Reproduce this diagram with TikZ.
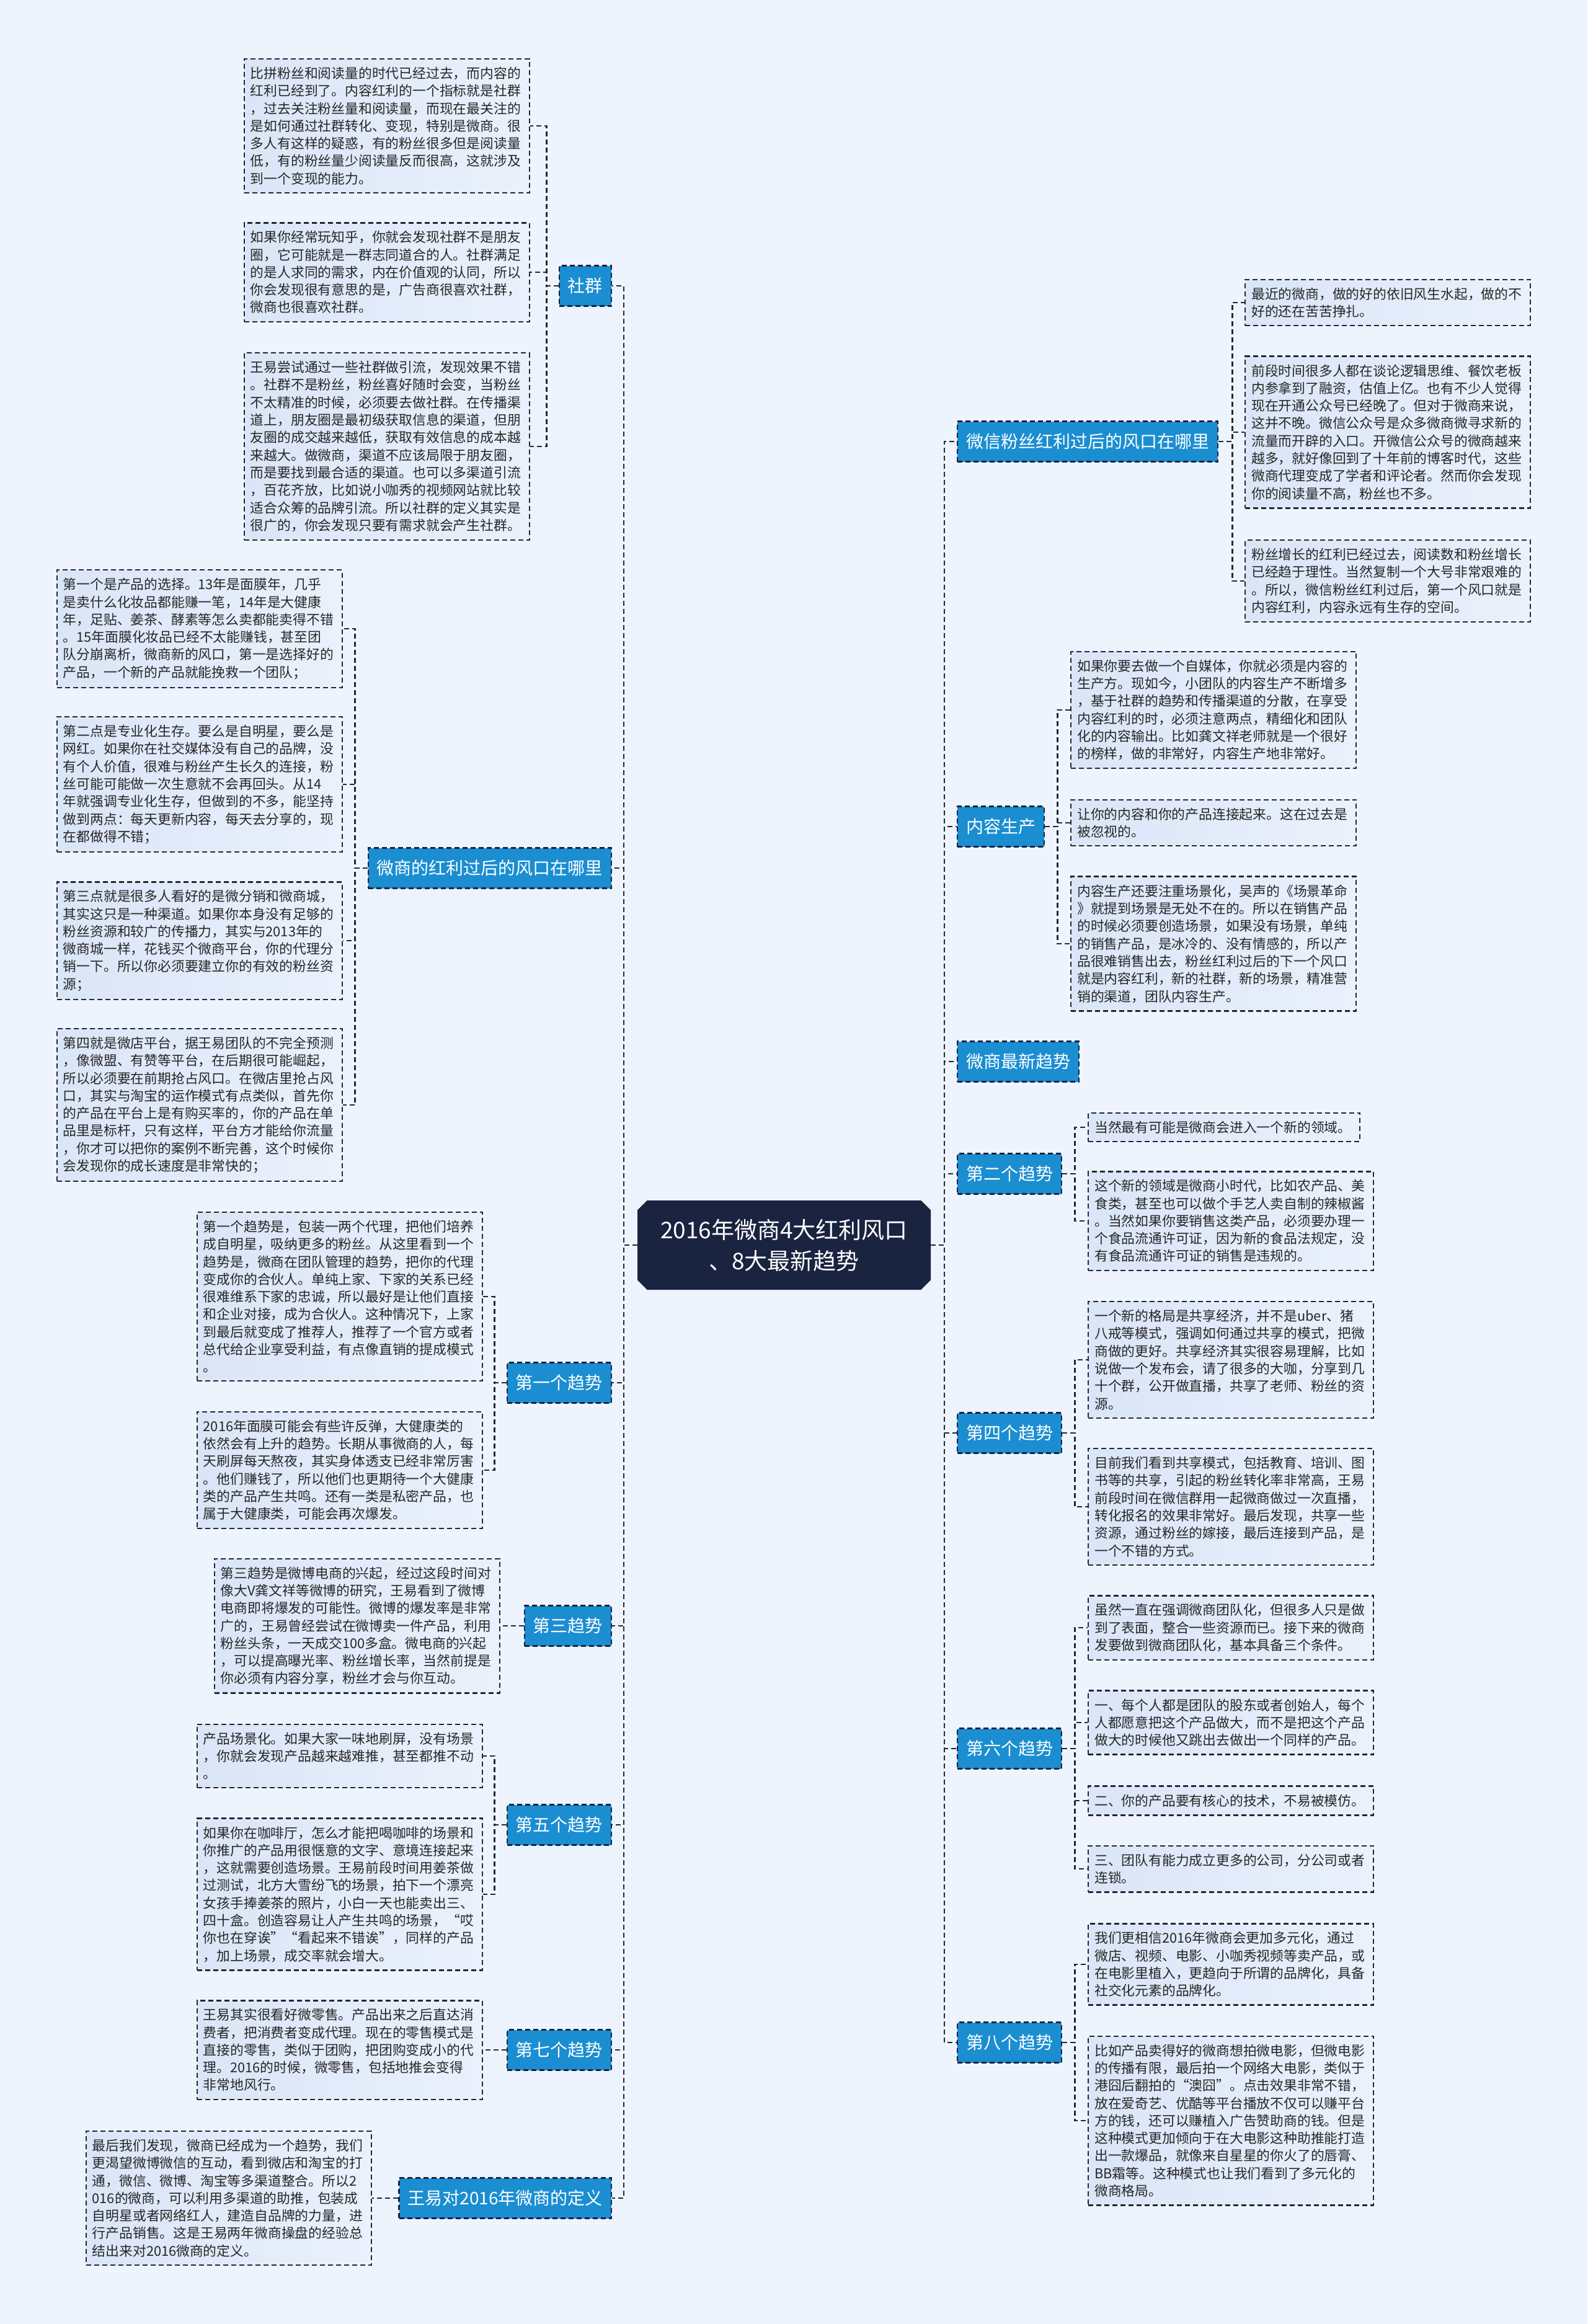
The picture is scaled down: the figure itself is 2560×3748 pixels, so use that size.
\documentclass[tikz,border=0pt]{standalone}
\usepackage{fontspec}
\setmainfont{Noto Sans CJK SC}
\usetikzlibrary{shapes.misc}
\definecolor{bg}{HTML}{EEF4FD}
\definecolor{boxL}{HTML}{DAE5F7}
\definecolor{boxR}{HTML}{EAF1FC}
\definecolor{topicblue}{HTML}{1B8ED1}
\definecolor{navy}{HTML}{1A2340}
\definecolor{edge}{HTML}{24272E}
\definecolor{txt}{HTML}{262626}
\tikzstyle{note} = [rectangle, draw=edge, line width=2.4pt, dash pattern=on 8pt off 5pt,
left color=boxL, right color=boxR, text=txt, text width=440pt, align=left,
inner xsep=10pt, inner ysep=13pt, font=\fontsize{21.8pt}{28.3pt}\selectfont]
\tikzstyle{topic} = [rectangle, draw=navy, line width=2.4pt, dash pattern=on 8pt off 5pt,
fill=topicblue, text=white, minimum height=65pt, inner xsep=14pt, inner ysep=4pt,
font=\fontsize{28pt}{34pt}\selectfont]
\tikzstyle{root} = [chamfered rectangle, chamfered rectangle xsep=12pt, fill=navy, text=white,
minimum width=473pt, minimum height=144pt, align=center, font=\fontsize{37pt}{50pt}\selectfont]
\tikzstyle{link} = [draw=edge, line width=2.4pt, dash pattern=on 8pt off 5pt]

\begin{document}
\begin{tikzpicture}[x=1pt, y=-1pt]
        \fill [bg] (0,0) rectangle (2560,3748);
        \useasboundingbox (0,0) rectangle (2560,3748);

        \node (C) [root] at (1264.5,2008) {2016年微商4大红利风口\\、8大最新趋势};

        % left branches
        \node (SQ) [topic, anchor=east] at (987,461) {社群};
        \node (WHL) [topic, anchor=east] at (987,1400) {微商的红利过后的风口在哪里};
        \node (T1) [topic, anchor=east] at (987,2230) {第一个趋势};
        \node (T3) [topic, anchor=east] at (987,2622) {第三趋势};
        \node (T5) [topic, anchor=east] at (987,2943) {第五个趋势};
        \node (T7) [topic, anchor=east] at (987,3306) {第七个趋势};
        \node (DEF) [topic, anchor=east] at (987,3545) {王易对2016年微商的定义};

        % right branches
        \node (WXF) [topic, anchor=west] at (1543,712) {微信粉丝红利过后的风口在哪里};
        \node (NR) [topic, anchor=west] at (1543,1333) {内容生产};
        \node (ZX) [topic, anchor=west] at (1543,1712) {微商最新趋势};
        \node (T2) [topic, anchor=west] at (1543,1893) {第二个趋势};
        \node (T4) [topic, anchor=west] at (1543,2311) {第四个趋势};
        \node (T6) [topic, anchor=west] at (1543,2820) {第六个趋势};
        \node (T8) [topic, anchor=west] at (1543,3294) {第八个趋势};

        \node (SQ1) [note, anchor=east] at (855,203) {比拼粉丝和阅读量的时代已经过去，而内容的\\红利已经到了。内容红利的一个指标就是社群\\，过去关注粉丝量和阅读量，而现在最关注的\\是如何通过社群转化、变现，特别是微商。很\\多人有这样的疑惑，有的粉丝很多但是阅读量\\低，有的粉丝量少阅读量反而很高，这就涉及\\到一个变现的能力。};
        \node (SQ2) [note, anchor=east] at (855,439) {如果你经常玩知乎，你就会发现社群不是朋友\\圈，它可能就是一群志同道合的人。社群满足\\的是人求同的需求，内在价值观的认同，所以\\你会发现很有意思的是，广告商很喜欢社群，\\微商也很喜欢社群。};
        \node (SQ3) [note, anchor=east] at (855,720) {王易尝试通过一些社群做引流，发现效果不错\\。社群不是粉丝，粉丝喜好随时会变，当粉丝\\不太精准的时候，必须要去做社群。在传播渠\\道上，朋友圈是最初级获取信息的渠道，但朋\\友圈的成交越来越低，获取有效信息的成本越\\来越大。做微商，渠道不应该局限于朋友圈，\\而是要找到最合适的渠道。也可以多渠道引流\\，百花齐放，比如说小咖秀的视频网站就比较\\适合众筹的品牌引流。所以社群的定义其实是\\很广的，你会发现只要有需求就会产生社群。};

        \node (WHL1) [note, anchor=east] at (553,1014) {第一个是产品的选择。13年是面膜年，几乎\\是卖什么化妆品都能赚一笔，14年是大健康\\年，足贴、姜茶、酵素等怎么卖都能卖得不错\\。15年面膜化妆品已经不太能赚钱，甚至团\\队分崩离析，微商新的风口，第一是选择好的\\产品，一个新的产品就能挽救一个团队；};
        \node (WHL2) [note, anchor=east] at (553,1265) {第二点是专业化生存。要么是自明星，要么是\\网红。如果你在社交媒体没有自己的品牌，没\\有个人价值，很难与粉丝产生长久的连接，粉\\丝可能可能做一次生意就不会再回头。从14\\年就强调专业化生存，但做到的不多，能坚持\\做到两点：每天更新内容，每天去分享的，现\\在都做得不错；};
        \node (WHL3) [note, anchor=east] at (553,1517) {第三点就是很多人看好的是微分销和微商城，\\其实这只是一种渠道。如果你本身没有足够的\\粉丝资源和较广的传播力，其实与2013年的\\微商城一样，花钱买个微商平台，你的代理分\\销一下。所以你必须要建立你的有效的粉丝资\\源；};
        \node (WHL4) [note, anchor=east] at (553,1782) {第四就是微店平台，据王易团队的不完全预测\\，像微盟、有赞等平台，在后期很可能崛起，\\所以必须要在前期抢占风口。在微店里抢占风\\口，其实与淘宝的运作模式有点类似，首先你\\的产品在平台上是有购买率的，你的产品在单\\品里是标杆，只有这样，平台方才能给你流量\\，你才可以把你的案例不断完善，这个时候你\\会发现你的成长速度是非常快的；};

        \node (T11) [note, anchor=east] at (779,2091) {第一个趋势是，包装一两个代理，把他们培养\\成自明星，吸纳更多的粉丝。从这里看到一个\\趋势是，微商在团队管理的趋势，把你的代理\\变成你的合伙人。单纯上家、下家的关系已经\\很难维系下家的忠诚，所以最好是让他们直接\\和企业对接，成为合伙人。这种情况下，上家\\到最后就变成了推荐人，推荐了一个官方或者\\总代给企业享受利益，有点像直销的提成模式\\。};
        \node (T12) [note, anchor=east] at (779,2371) {2016年面膜可能会有些许反弹，大健康类的\\依然会有上升的趋势。长期从事微商的人，每\\天刷屏每天熬夜，其实身体透支已经非常厉害\\。他们赚钱了，所以他们也更期待一个大健康\\类的产品产生共鸣。还有一类是私密产品，也\\属于大健康类，可能会再次爆发。};
        \node (T31) [note, anchor=east] at (807,2622) {第三趋势是微博电商的兴起，经过这段时间对\\像大V龚文祥等微博的研究，王易看到了微博\\电商即将爆发的可能性。微博的爆发率是非常\\广的，王易曾经尝试在微博卖一件产品，利用\\粉丝头条，一天成交100多盒。微电商的兴起\\，可以提高曝光率、粉丝增长率，当然前提是\\你必须有内容分享，粉丝才会与你互动。};
        \node (T51) [note, anchor=east] at (779,2832) {产品场景化。如果大家一味地刷屏，没有场景\\，你就会发现产品越来越难推，甚至都推不动\\。};
        \node (T52) [note, anchor=east] at (779,3055) {如果你在咖啡厅，怎么才能把喝咖啡的场景和\\你推广的产品用很惬意的文字、意境连接起来\\，这就需要创造场景。王易前段时间用姜茶做\\过测试，北方大雪纷飞的场景，拍下一个漂亮\\女孩手捧姜茶的照片，小白一天也能卖出三、\\四十盒。创造容易让人产生共鸣的场景，“哎\\你也在穿诶”“看起来不错诶”，同样的产品\\，加上场景，成交率就会增大。};
        \node (T71) [note, anchor=east] at (779,3306) {王易其实很看好微零售。产品出来之后直达消\\费者，把消费者变成代理。现在的零售模式是\\直接的零售，类似于团购，把团购变成小的代\\理。2016的时候，微零售，包括地推会变得\\非常地风行。};
        \node (DEF1) [note, anchor=east] at (600,3545) {最后我们发现，微商已经成为一个趋势，我们\\更渴望微博微信的互动，看到微店和淘宝的打\\通，微信、微博、淘宝等多渠道整合。所以2\\016的微商，可以利用多渠道的助推，包装成\\自明星或者网络红人，建造自品牌的力量，进\\行产品销售。这是王易两年微商操盘的经验总\\结出来对2016微商的定义。};

        \node (WXF1) [note, anchor=west] at (2007,488) {最近的微商，做的好的依旧风生水起，做的不\\好的还在苦苦挣扎。};
        \node (WXF2) [note, anchor=west] at (2007,697) {前段时间很多人都在谈论逻辑思维、餐饮老板\\内参拿到了融资，估值上亿。也有不少人觉得\\现在开通公众号已经晚了。但对于微商来说，\\这并不晚。微信公众号是众多微商微寻求新的\\流量而开辟的入口。开微信公众号的微商越来\\越多，就好像回到了十年前的博客时代，这些\\微商代理变成了学者和评论者。然而你会发现\\你的阅读量不高，粉丝也不多。};
        \node (WXF3) [note, anchor=west] at (2007,937) {粉丝增长的红利已经过去，阅读数和粉丝增长\\已经趋于理性。当然复制一个大号非常艰难的\\。所以，微信粉丝红利过后，第一个风口就是\\内容红利，内容永远有生存的空间。};

        \node (NR1) [note, anchor=west] at (1726,1145) {如果你要去做一个自媒体，你就必须是内容的\\生产方。现如今，小团队的内容生产不断增多\\，基于社群的趋势和传播渠道的分散，在享受\\内容红利的时，必须注意两点，精细化和团队\\化的内容输出。比如龚文祥老师就是一个很好\\的榜样，做的非常好，内容生产地非常好。};
        \node (NR2) [note, anchor=west] at (1726,1327) {让你的内容和你的产品连接起来。这在过去是\\被忽视的。};
        \node (NR3) [note, anchor=west] at (1726,1522) {内容生产还要注重场景化，吴声的《场景革命\\》就提到场景是无处不在的。所以在销售产品\\的时候必须要创造场景，如果没有场景，单纯\\的销售产品，是冰冷的、没有情感的，所以产\\品很难销售出去，粉丝红利过后的下一个风口\\就是内容红利，新的社群，新的场景，精准营\\销的渠道，团队内容生产。};

        \node (T21) [note, anchor=west, text width=418pt] at (1754,1818) {当然最有可能是微商会进入一个新的领域。};
        \node (T22) [note, anchor=west] at (1754,1969) {这个新的领域是微商小时代，比如农产品、美\\食类，甚至也可以做个手艺人卖自制的辣椒酱\\。当然如果你要销售这类产品，必须要办理一\\个食品流通许可证，因为新的食品法规定，没\\有食品流通许可证的销售是违规的。};
        \node (T41) [note, anchor=west] at (1754,2193) {一个新的格局是共享经济，并不是uber、猪\\八戒等模式，强调如何通过共享的模式，把微\\商做的更好。共享经济其实很容易理解，比如\\说做一个发布会，请了很多的大咖，分享到几\\十个群，公开做直播，共享了老师、粉丝的资\\源。};
        \node (T42) [note, anchor=west] at (1754,2430) {目前我们看到共享模式，包括教育、培训、图\\书等的共享，引起的粉丝转化率非常高，王易\\前段时间在微信群用一起微商做过一次直播，\\转化报名的效果非常好。最后发现，共享一些\\资源，通过粉丝的嫁接，最后连接到产品，是\\一个不错的方式。};
        \node (T61) [note, anchor=west] at (1754,2625) {虽然一直在强调微商团队化，但很多人只是做\\到了表面，整合一些资源而已。接下来的微商\\发要做到微商团队化，基本具备三个条件。};
        \node (T62) [note, anchor=west] at (1754,2778) {一、每个人都是团队的股东或者创始人，每个\\人都愿意把这个产品做大，而不是把这个产品\\做大的时候他又跳出去做出一个同样的产品。};
        \node (T63) [note, anchor=west] at (1754,2904) {二、你的产品要有核心的技术，不易被模仿。};
        \node (T64) [note, anchor=west] at (1754,3014) {三、团队有能力成立更多的公司，分公司或者\\连锁。};
        \node (T81) [note, anchor=west] at (1754,3168) {我们更相信2016年微商会更加多元化，通过\\微店、视频、电影、小咖秀视频等卖产品，或\\在电影里植入，更趋向于所谓的品牌化，具备\\社交化元素的品牌化。};
        \node (T82) [note, anchor=west] at (1754,3420) {比如产品卖得好的微商想拍微电影，但微电影\\的传播有限，最后拍一个网络大电影，类似于\\港囧后翻拍的“澳囧”。点击效果非常不错，\\放在爱奇艺、优酷等平台播放不仅可以赚平台\\方的钱，还可以赚植入广告赞助商的钱。但是\\这种模式更加倾向于在大电影这种助推能打造\\出一款爆品，就像来自星星的你火了的唇膏、\\BB霜等。这种模式也让我们看到了多元化的\\微商格局。};

        % root to branches
        \draw [link] (C.west) -- ++(-22,0) |- (SQ.east);
        \draw [link] (C.west) -- ++(-22,0) |- (WHL.east);
        \draw [link] (C.west) -- ++(-22,0) |- (T1.east);
        \draw [link] (C.west) -- ++(-22,0) |- (T3.east);
        \draw [link] (C.west) -- ++(-22,0) |- (T5.east);
        \draw [link] (C.west) -- ++(-22,0) |- (T7.east);
        \draw [link] (C.west) -- ++(-22,0) |- (DEF.east);
        \draw [link] (C.east) -- ++(22,0) |- (WXF.west);
        \draw [link] (C.east) -- ++(22,0) |- (NR.west);
        \draw [link] (C.east) -- ++(22,0) |- (ZX.west);
        \draw [link] (C.east) -- ++(22,0) |- (T2.west);
        \draw [link] (C.east) -- ++(22,0) |- (T4.west);
        \draw [link] (C.east) -- ++(22,0) |- (T6.west);
        \draw [link] (C.east) -- ++(22,0) |- (T8.west);

        % branches to notes
        \draw [link] (SQ.west) -- ++(-19,0) |- (SQ1.east);
        \draw [link] (SQ.west) -- ++(-19,0) |- (SQ2.east);
        \draw [link] (SQ.west) -- ++(-19,0) |- (SQ3.east);
        \draw [link] (WHL.west) -- ++(-20,0) |- (WHL1.east);
        \draw [link] (WHL.west) -- ++(-20,0) |- (WHL2.east);
        \draw [link] (WHL.west) -- ++(-20,0) |- (WHL3.east);
        \draw [link] (WHL.west) -- ++(-20,0) |- (WHL4.east);
        \draw [link] (T1.west) -- ++(-19,0) |- (T11.east);
        \draw [link] (T1.west) -- ++(-19,0) |- (T12.east);
        \draw [link] (T3.west) -- (T31.east);
        \draw [link] (T5.west) -- ++(-19,0) |- (T51.east);
        \draw [link] (T5.west) -- ++(-19,0) |- (T52.east);
        \draw [link] (T7.west) -- (T71.east);
        \draw [link] (DEF.west) -- (DEF1.east);

        \draw [link] (WXF.east) -- ++(22,0) |- (WXF1.west);
        \draw [link] (WXF.east) -- ++(22,0) |- (WXF2.west);
        \draw [link] (WXF.east) -- ++(22,0) |- (WXF3.west);
        \draw [link] (NR.east) -- ++(20,0) |- (NR1.west);
        \draw [link] (NR.east) -- ++(20,0) |- (NR2.west);
        \draw [link] (NR.east) -- ++(20,0) |- (NR3.west);
        \draw [link] (T2.east) -- ++(20,0) |- (T21.west);
        \draw [link] (T2.east) -- ++(20,0) |- (T22.west);
        \draw [link] (T4.east) -- ++(20,0) |- (T41.west);
        \draw [link] (T4.east) -- ++(20,0) |- (T42.west);
        \draw [link] (T6.east) -- ++(20,0) |- (T61.west);
        \draw [link] (T6.east) -- ++(20,0) |- (T62.west);
        \draw [link] (T6.east) -- ++(20,0) |- (T63.west);
        \draw [link] (T6.east) -- ++(20,0) |- (T64.west);
        \draw [link] (T8.east) -- ++(20,0) |- (T81.west);
        \draw [link] (T8.east) -- ++(20,0) |- (T82.west);
\end{tikzpicture}
\end{document}
